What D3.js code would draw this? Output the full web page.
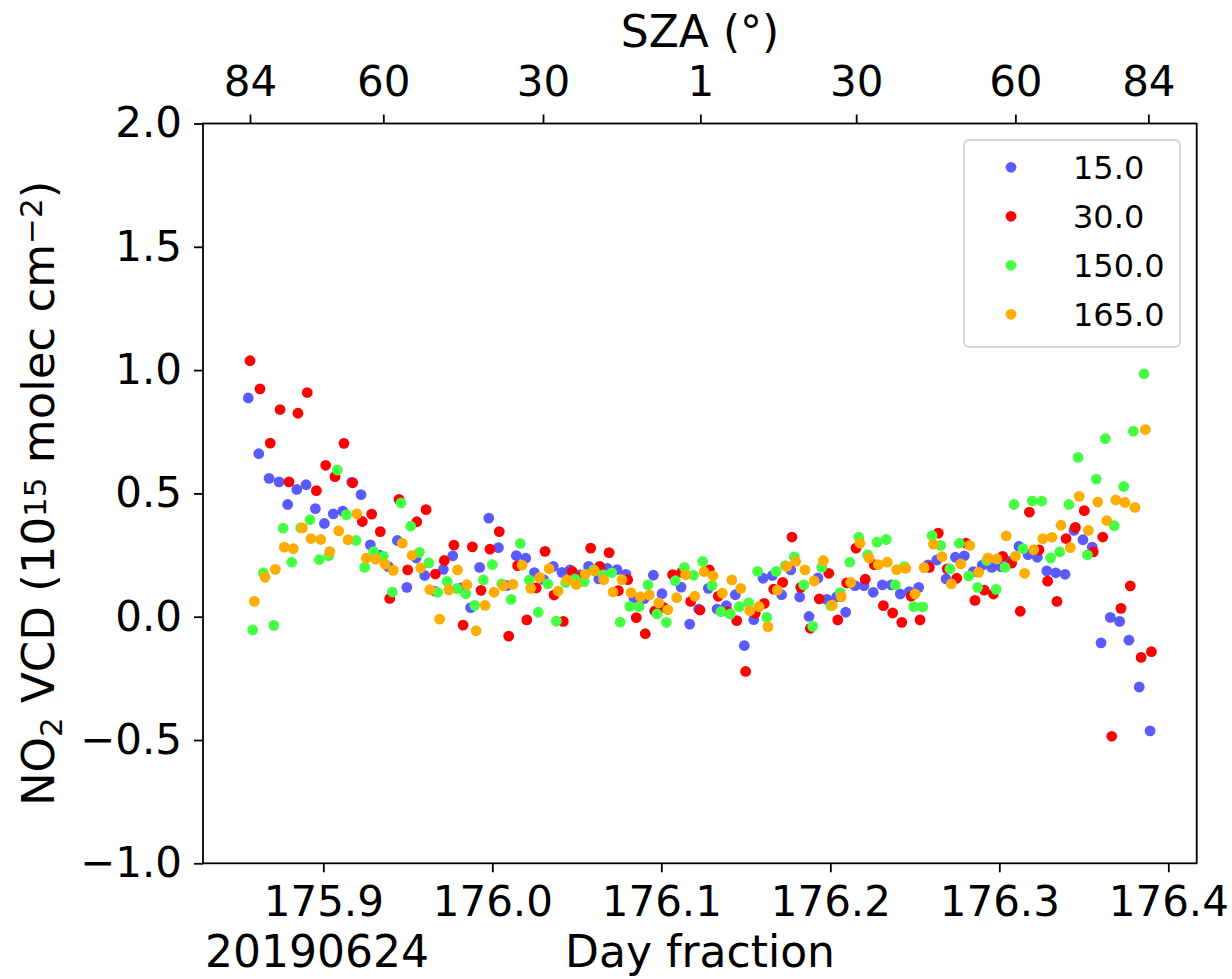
<!DOCTYPE html>
<html>
<head>
<meta charset="utf-8">
<script src="https://cdn.jsdelivr.net/npm/d3@7"></script>
<style>
  html, body { margin: 0; padding: 0; background: #fff; }
  svg { display: block; font-family: "DejaVu Sans", sans-serif; }
  text { white-space: pre; }
</style>
</head>
<body>
<svg id="chart" width="1232" height="979"></svg>
<script>
// ---------------- data ----------------
const seriesNames = ["15.0", "30.0", "150.0", "165.0"];
const seriesColors = ["#5a5aff", "#ff0000", "#44ff44", "#ffad00"];

const dayBlue = [175.8556,175.8618,175.8679,175.8738,175.8789,175.8843,175.8898,175.8953,175.9006,175.9059,
  175.9115,175.9168,175.9223,175.9278,175.9333,175.9385,175.9438,175.9494,175.9549,175.9600,
  175.9661,175.9710,175.9766,175.9815,175.9872,175.9925,175.9979,176.0036,176.0085,176.0142,
  176.0198,176.0249,176.0304,176.0361,176.0412,176.0460,176.0519,176.0570,176.0630,176.0680,
  176.0738,176.0791,176.0838,176.0898,176.0953,176.1004,176.1071,176.1117,176.1168,176.1221,
  176.1278,176.1330,176.1385,176.1438,176.1491,176.1547,176.1602,176.1657,176.1712,176.1766,
  176.1819,176.1874,176.1927,176.1980,176.2038,176.2091,176.2146,176.2199,176.2254,176.2308,
  176.2361,176.2414,176.2467,176.2523,176.2578,176.2630,176.2685,176.2740,176.2793,176.2846,
  176.2899,176.2955,176.3010,176.3063,176.3117,176.3170,176.3225,176.3281,176.3334,176.3389,
  176.3442,176.3495,176.3550,176.3602,176.3657,176.3712,176.3767,176.3828,176.3892];
const vcdBlue = [0.887,0.661,0.561,0.547,0.455,0.516,0.535,0.438,0.378,0.417,
  0.428,0.546,0.495,0.291,0.25,0.203,0.309,0.119,0.238,0.167,
  0.103,0.192,0.247,0.117,0.037,0.200,0.400,0.280,0.126,0.248,
  0.237,0.179,0.150,0.204,0.180,0.190,0.170,0.204,0.153,0.196,
  0.191,0.172,0.076,0.073,0.168,0.093,0.167,0.120,-0.030,0.031,
  0.115,0.031,0.045,0.089,-0.117,-0.012,0.156,0.167,0.089,0.190,
  0.080,0.001,0.157,0.070,0.081,0.018,0.126,0.126,0.099,0.129,
  0.129,0.092,0.102,0.119,0.210,0.230,0.153,0.241,0.247,0.183,
  0.209,0.200,0.203,0.225,0.285,0.252,0.241,0.186,0.178,0.172,
  0.350,0.312,0.282,-0.106,-0.003,-0.019,-0.095,-0.285,-0.463];

const dayRed = [175.8566,175.8625,175.8686,175.8744,175.8797,175.8850,175.8905,175.8959,175.9014,175.9069,
  175.9122,175.9174,175.9231,175.9286,175.9337,175.9393,175.9448,175.9499,175.9553,175.9608,
  175.9663,175.9716,175.9773,175.9827,175.9882,175.9933,175.9986,176.0041,176.0097,176.0150,
  176.0204,176.0260,176.0312,176.0365,176.0420,176.0473,176.0528,176.0582,176.0636,176.0691,
  176.0746,176.0801,176.0852,176.0905,176.0961,176.1012,176.1067,176.1121,176.1174,176.1229,
  176.1284,176.1337,176.1393,176.1446,176.1499,176.1556,176.1609,176.1665,176.1718,176.1773,
  176.1825,176.1882,176.1935,176.1991,176.2044,176.2097,176.2152,176.2207,176.2260,176.2314,
  176.2369,176.2423,176.2478,176.2531,176.2586,176.2639,176.2692,176.2748,176.2803,176.2856,
  176.2911,176.2965,176.3020,176.3073,176.3124,176.3178,176.3235,176.3286,176.3341,176.3395,
  176.3450,176.3503,176.3556,176.3612,176.3665,176.3720,176.3775,176.3839,176.3900];
const vcdRed = [1.038,0.924,0.704,0.840,0.547,0.825,0.909,0.511,0.614,0.568,
  0.703,0.543,0.386,0.416,0.345,0.074,0.476,0.190,0.385,0.434,
  0.173,0.228,0.290,-0.034,0.283,0.107,0.274,0.345,-0.079,0.207,
  -0.013,0.117,0.265,0.088,-0.019,0.183,0.160,0.278,0.204,0.260,
  0.106,0.150,-0.004,-0.069,0.023,0.038,0.171,0.180,0.062,0.027,
  0.190,0.083,0.020,-0.016,-0.222,0.014,0.054,0.112,0.139,0.323,
  0.119,-0.047,0.072,0.176,-0.013,0.137,0.278,0.152,0.211,0.045,
  0.015,-0.023,0.083,-0.013,0.200,0.339,0.194,0.156,0.298,0.066,
  0.108,0.092,0.245,0.217,0.022,0.424,0.271,0.144,0.062,0.317,
  0.362,0.430,0.263,0.323,-0.485,0.034,0.125,-0.165,-0.142];

const dayGreen = [175.8582,175.8645,175.8707,175.8762,175.8813,175.8866,175.8921,175.8976,175.9032,175.9083,
  175.9136,175.9193,175.9245,175.9298,175.9355,175.9408,175.9460,175.9517,175.9568,175.9624,
  175.9677,175.9733,175.9790,175.9843,175.9896,175.9947,176.0000,176.0056,176.0111,176.0166,
  176.0219,176.0272,176.0328,176.0379,176.0434,176.0489,176.0544,176.0600,176.0655,176.0707,
  176.0757,176.0813,176.0868,176.0921,176.0975,176.1030,176.1083,176.1137,176.1191,176.1245,
  176.1300,176.1353,176.1408,176.1462,176.1517,176.1570,176.1624,176.1679,176.1734,176.1787,
  176.1843,176.1896,176.1949,176.2004,176.2059,176.2115,176.2168,176.2221,176.2276,176.2331,
  176.2385,176.2438,176.2494,176.2547,176.2602,176.2653,176.2708,176.2763,176.2819,176.2872,
  176.2925,176.2981,176.3034,176.3087,176.3140,176.3195,176.3251,176.3304,176.3357,176.3412,
  176.3466,176.3521,176.3574,176.3627,176.3680,176.3736,176.3793,176.3856];
const vcdGreen = [-0.054,0.178,-0.035,0.359,0.221,0.360,0.393,0.232,0.247,0.595,
  0.413,0.309,0.200,0.264,0.245,0.100,0.461,0.367,0.261,0.218,
  0.099,0.143,0.114,0.093,0.046,0.149,0.211,0.133,0.070,0.297,
  0.149,0.018,0.133,-0.018,0.139,0.153,0.142,0.190,0.170,0.178,
  -0.022,0.042,0.041,0.129,0.011,-0.023,0.146,0.200,0.168,0.224,
  0.127,0.020,0.011,0.041,0.056,0.184,-0.003,0.184,0.207,0.243,
  0.129,-0.039,0.200,0.045,0.098,0.221,0.323,0.251,0.302,0.313,
  0.129,0.203,0.041,0.040,0.329,0.289,0.194,0.298,0.165,0.119,
  0.228,0.111,0.200,0.455,0.276,0.469,0.469,0.238,0.263,0.455,
  0.646,0.251,0.558,0.722,0.369,0.528,0.752,0.985];

const dayOrange = [175.8592,175.8655,175.8716,175.8769,175.8822,175.8876,175.8927,175.8985,175.9038,175.9091,
  175.9146,175.9199,175.9254,175.9310,175.9365,175.9414,175.9467,175.9525,175.9576,175.9630,
  175.9688,175.9742,175.9794,175.9850,175.9904,175.9957,176.0010,176.0065,176.0121,176.0176,
  176.0227,176.0280,176.0336,176.0389,176.0442,176.0497,176.0550,176.0604,176.0659,176.0714,
  176.0767,176.0821,176.0876,176.0929,176.0985,176.1038,176.1091,176.1144,176.1198,176.1253,
  176.1306,176.1361,176.1417,176.1470,176.1523,176.1578,176.1631,176.1686,176.1742,176.1795,
  176.1850,176.1904,176.1959,176.2012,176.2065,176.2121,176.2176,176.2229,176.2284,176.2337,
  176.2393,176.2446,176.2501,176.2555,176.2610,176.2661,176.2716,176.2772,176.2825,176.2878,
  176.2933,176.2986,176.3041,176.3095,176.3150,176.3204,176.3257,176.3312,176.3365,176.3420,
  176.3473,176.3527,176.3582,176.3636,176.3689,176.3744,176.3803,176.3864];
const vcdOrange = [0.062,0.160,0.192,0.282,0.276,0.360,0.317,0.313,0.264,0.348,
  0.312,0.417,0.237,0.233,0.213,0.188,0.298,0.249,0.198,0.110,
  -0.010,0.109,0.190,0.130,-0.057,0.046,0.099,0.125,0.131,0.209,
  0.115,0.159,0.195,0.104,0.149,0.131,0.173,0.186,0.150,0.100,
  0.150,0.098,0.081,0.088,0.056,0.028,0.077,0.170,0.083,0.183,
  0.165,0.095,0.149,0.115,0.024,0.041,-0.041,0.108,0.204,0.224,
  0.190,0.145,0.228,0.047,0.081,0.139,0.298,0.238,0.211,0.221,
  0.191,0.196,0.092,0.199,0.294,0.244,0.133,0.214,0.289,0.180,
  0.238,0.234,0.328,0.245,0.176,0.272,0.316,0.322,0.371,0.280,
  0.488,0.350,0.465,0.390,0.474,0.463,0.443,0.759];

const xTicks = [175.9, 176.0, 176.1, 176.2, 176.3, 176.4];
const yTicks = [-1.0, -0.5, 0.0, 0.5, 1.0, 1.5, 2.0];
const szaTickDays = [175.8566, 175.9355, 176.0300, 176.1231, 176.2153, 176.3095, 176.3882];
const szaTickLabels = ["84", "60", "30", "1", "30", "60", "84"];

const xDomain = [175.8288, 176.4168];
const yDomain = [-1.0, 2.0];

// ---------------- layout ----------------
const L = 203, R = 1196.7, T = 123.5, B = 863.3;
const svg = d3.select("#chart");
const x = d3.scaleLinear().domain(xDomain).range([L, R]);
const y = d3.scaleLinear().domain(yDomain).range([B, T]);

const tickFont = 42;

// points
const series = [
  { days: dayBlue, vals: vcdBlue },
  { days: dayRed, vals: vcdRed },
  { days: dayGreen, vals: vcdGreen },
  { days: dayOrange, vals: vcdOrange }
];
const plot = svg.append("g");
series.forEach((s, i) => {
  plot.append("g")
    .selectAll("circle")
    .data(s.days.map((d, k) => [d, s.vals[k]]))
    .join("circle")
    .attr("cx", d => x(d[0]))
    .attr("cy", d => y(d[1]))
    .attr("r", 5.4)
    .attr("fill", seriesColors[i]);
});

function styleAxis(g) {
  g.select(".domain").remove();
  g.selectAll(".tick line").attr("stroke", "#000").attr("stroke-width", 1.8);
  g.selectAll(".tick text").attr("fill", "#000")
    .style("font-size", tickFont + "px")
    .style("font-family", "'DejaVu Sans', sans-serif");
}

// bottom axis
svg.append("g")
  .attr("transform", `translate(0,${B})`)
  .call(d3.axisBottom(x).tickValues(xTicks).tickFormat(d3.format(".1f")).tickSize(9).tickPadding(14))
  .call(styleAxis);

// left axis
svg.append("g")
  .attr("transform", `translate(${L},0)`)
  .call(d3.axisLeft(y).tickValues(yTicks).tickFormat(d3.format(".1f")).tickSize(9).tickPadding(12))
  .call(styleAxis);

// top axis (SZA)
svg.append("g")
  .attr("transform", `translate(0,${T})`)
  .call(d3.axisTop(x).tickValues(szaTickDays).tickFormat((d, i) => szaTickLabels[i]).tickSize(9).tickPadding(19))
  .call(styleAxis);

// frame
svg.append("rect")
  .attr("x", L).attr("y", T).attr("width", R - L).attr("height", B - T)
  .attr("fill", "none").attr("stroke", "#000").attr("stroke-width", 1.8);

// titles
svg.append("text")
  .attr("x", 700).attr("y", 47).attr("text-anchor", "middle")
  .style("font-size", "44px").text("SZA (°)");

svg.append("text")
  .attr("x", 700).attr("y", 967).attr("text-anchor", "middle")
  .style("font-size", "44px").text("Day fraction");

svg.append("text")
  .attr("x", 205).attr("y", 967).attr("text-anchor", "start")
  .style("font-size", "44px").text("20190624");

// y label with sub/superscripts
const yl = svg.append("text")
  .attr("transform", `translate(54,${(T + B) / 2}) rotate(-90)`)
  .attr("text-anchor", "middle")
  .style("font-size", "45px");
yl.append("tspan").text("NO");
yl.append("tspan").style("font-size", "31px").attr("dy", 8).text("2");
yl.append("tspan").attr("dy", -8).text(" VCD (10");
yl.append("tspan").style("font-size", "31px").attr("dy", -8).text("15");
yl.append("tspan").attr("dy", 8).text(" molec cm");
yl.append("tspan").style("font-size", "31px").attr("dy", -12).text("\u22122");
yl.append("tspan").attr("dy", 12).text(")");

// legend
const lg = svg.append("g");
lg.append("rect")
  .attr("x", 964).attr("y", 140).attr("width", 216).attr("height", 207)
  .attr("rx", 5).attr("fill", "#fff").attr("fill-opacity", 0.8)
  .attr("stroke", "#d6d6d6").attr("stroke-width", 1.8);
seriesNames.forEach((name, i) => {
  const cy = 167.3 + i * 49;
  lg.append("circle").attr("cx", 1011).attr("cy", cy).attr("r", 5.4).attr("fill", seriesColors[i]);
  lg.append("text").attr("x", 1073).attr("y", cy + 11.7)
    .style("font-size", "32px").text(name);
});
</script>
</body>
</html>
